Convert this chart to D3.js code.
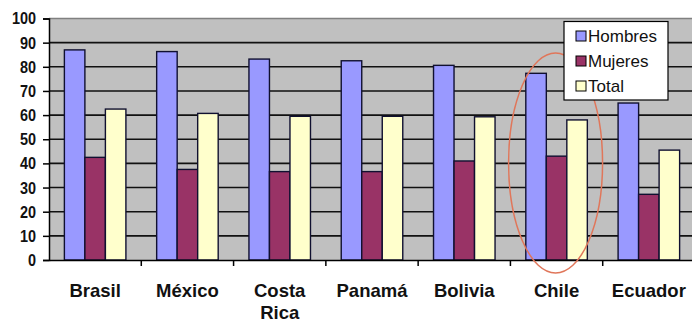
<!DOCTYPE html>
<html>
<head>
<meta charset="utf-8">
<script src="https://cdn.jsdelivr.net/npm/d3@7"></script>
<style>
  html, body { margin: 0; padding: 0; background: #fff; }
  svg { display: block; }
</style>
</head>
<body>
<svg id="chart" width="692" height="322"></svg>
<script>
// Tasa de participación laboral por país y sexo
const paises = ["Brasil", "México", "Costa Rica", "Panamá", "Bolivia", "Chile", "Ecuador"];
const series = ["Hombres", "Mujeres", "Total"];
const hombres = [87, 86.3, 83.2, 82.5, 80.6, 77.3, 65];
const mujeres = [42.5, 37.5, 36.6, 36.6, 41, 43, 27.2];
const total   = [62.5, 60.7, 59.5, 59.5, 59.3, 58, 45.5];
const yTicks  = [0, 10, 20, 30, 40, 50, 60, 70, 80, 90, 100];
const destacado = "Chile";

const colores = { Hombres: "#9999ff", Mujeres: "#993366", Total: "#ffffcc" };
const valores = { Hombres: hombres, Mujeres: mujeres, Total: total };

const svg = d3.select("#chart");
const plotLeft = 49, plotRight = 695, plotTop = 18.5, plotBottom = 260;

const x = d3.scaleBand().domain(paises).range([plotLeft, plotRight]).paddingInner(0).paddingOuter(0);
const x1 = d3.scaleBand().domain(series).range([0, x.bandwidth()]).paddingInner(0).paddingOuter(0.75);
const y = d3.scaleLinear().domain([0, 100]).range([plotBottom, plotTop]);

// plot background
svg.append("rect")
  .attr("x", plotLeft).attr("y", plotTop)
  .attr("width", plotRight - plotLeft).attr("height", plotBottom - plotTop)
  .attr("fill", "#c0c0c0");

// gridlines
svg.append("g").selectAll("line")
  .data(yTicks.filter(t => t > 0))
  .join("line")
  .attr("x1", plotLeft).attr("x2", plotRight)
  .attr("y1", d => y(d)).attr("y2", d => y(d))
  .attr("stroke", d => d === 100 ? "#808080" : "#111")
  .attr("stroke-width", d => d === 100 ? 1.5 : 1.6);

// bars
const grupos = svg.append("g").selectAll("g")
  .data(paises)
  .join("g")
  .attr("transform", d => `translate(${x(d)},0)`);

grupos.selectAll("rect")
  .data((p, i) => series.map(s => ({ s, v: valores[s][i] })))
  .join("rect")
  .attr("x", d => x1(d.s))
  .attr("width", x1.bandwidth())
  .attr("y", d => y(d.v))
  .attr("height", d => y(0) - y(d.v))
  .attr("fill", d => colores[d.s])
  .attr("stroke", "#101030")
  .attr("stroke-width", 1.4);

// y axis
const yAxis = d3.axisLeft(y).tickValues(yTicks).tickSize(6).tickPadding(7).tickFormat(d3.format("d"));
const gy = svg.append("g").attr("transform", `translate(${plotLeft},0)`).call(yAxis);
gy.select(".domain").attr("stroke", "#000").attr("stroke-width", 1.5);
gy.selectAll(".tick line").attr("stroke", "#000").attr("stroke-width", 1.5);
gy.selectAll(".tick text")
  .attr("font-family", "'Liberation Sans', Arial, sans-serif")
  .attr("font-weight", "bold")
  .attr("font-size", 17)
  .attr("fill", "#111")
  .each(function () {
    const t = d3.select(this);
    const xx = +t.attr("x");
    t.attr("x", null).attr("transform", `translate(${xx},0) scale(0.85,1)`);
  });

// x axis
const xAxis = d3.axisBottom(x).tickSize(0).tickFormat("");
const gx = svg.append("g").attr("transform", `translate(0,${plotBottom})`).call(xAxis);
gx.select(".domain").attr("stroke", "#000").attr("stroke-width", 1.5);
gx.selectAll(".tick").remove();
svg.append("g").selectAll("line")
  .data(paises.slice(1))
  .join("line")
  .attr("x1", d => x(d)).attr("x2", d => x(d))
  .attr("y1", plotBottom).attr("y2", plotBottom + 6)
  .attr("stroke", "#000").attr("stroke-width", 1.5);

// category labels
svg.append("g").selectAll("text")
  .data(paises)
  .join("text")
  .attr("x", d => x(d) + x.bandwidth() / 2)
  .attr("y", 297)
  .attr("text-anchor", "middle")
  .attr("font-family", "'Liberation Sans', Arial, sans-serif")
  .attr("font-weight", "bold")
  .attr("font-size", 18.5)
  .attr("fill", "#111")
  .each(function (d) {
    const words = d.split(" ");
    d3.select(this).selectAll("tspan")
      .data(words)
      .join("tspan")
      .attr("x", x(d) + x.bandwidth() / 2)
      .attr("dy", (w, i) => i === 0 ? 0 : 22)
      .text(w => w);
  });

// highlight ellipse
svg.append("ellipse")
  .attr("cx", x(destacado) + x.bandwidth() / 2 - 1)
  .attr("cy", 163)
  .attr("rx", 47)
  .attr("ry", 110)
  .attr("fill", "none")
  .attr("stroke", "#e0765a")
  .attr("stroke-width", 1.5);

// legend
const lg = svg.append("g").attr("transform", "translate(564,21.5)");
lg.append("rect")
  .attr("width", 104).attr("height", 78.5)
  .attr("fill", "#fff").attr("stroke", "#000").attr("stroke-width", 1.2);
const items = lg.selectAll("g.item")
  .data(series)
  .join("g")
  .attr("class", "item")
  .attr("transform", (d, i) => `translate(12,${14.5 + i * 25})`);
items.append("rect")
  .attr("x", 0).attr("y", -5)
  .attr("width", 10).attr("height", 10)
  .attr("fill", d => colores[d])
  .attr("stroke", "#000").attr("stroke-width", 1);
items.append("text")
  .attr("x", 12).attr("y", 6)
  .attr("font-family", "'Liberation Sans', Arial, sans-serif")
  .attr("font-size", 17)
  .attr("fill", "#111")
  .text(d => d);
</script>
</body>
</html>
